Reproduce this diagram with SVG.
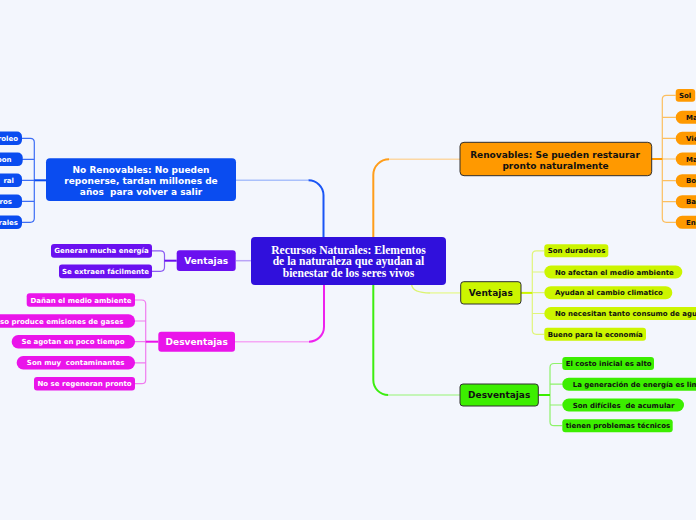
<svg xmlns="http://www.w3.org/2000/svg" width="696" height="520" viewBox="0 0 696 520">
<style>
.t{font-family:"DejaVu Sans",Verdana,sans-serif;font-weight:bold}
.lf{font-size:7px}
.nd{font-size:9px}
.w{fill:#ffffff}
.k{fill:#111111}
.c{font-family:"Liberation Serif","Times New Roman",serif;font-weight:bold;font-size:11.6px;fill:#ffffff}
.br{fill:none;stroke-width:1.2}
.st{fill:none;stroke-width:2}
.mn{fill:none;stroke-width:2}
.ml{fill:none;stroke-width:1.5}
.bd{stroke:#2e2e2e;stroke-width:1}
</style>
<rect width="696" height="520" fill="#f3f6fd"/>
<g id="connectors">
<path class="ml" stroke="#a9c0fb" d="M236,180.3 H308.5"/>
<path class="mn" stroke="#1a55f5" d="M308.5,180.3 C316.8,180.3 323.5,187 323.5,195.3 V237"/>
<path class="ml" stroke="#b9a3f7" d="M236,260.7 H251"/>
<path class="mn" stroke="#ee22ee" d="M324,285 V326.7 C324,335 317.3,341.7 309,341.7"/>
<path class="ml" stroke="#f5a8f5" d="M309,341.7 H235"/>
<path class="mn" stroke="#ff9d1a" d="M373.3,237 V175 C373.3,166.3 380.3,159.3 389,159.3"/>
<path class="ml" stroke="#fcd7a4" d="M389,159.3 H460"/>
<path class="ml" stroke="#dcf470" d="M411.7,285 C412.5,290 418,292.9 430,292.9"/>
<path class="ml" stroke="#e8f8a0" d="M430,292.9 H460"/>
<path class="mn" stroke="#3cee10" d="M373.3,285 V380 C373.3,388.3 380,395 388.3,395"/>
<path class="ml" stroke="#b5f5a0" d="M388.3,395 H460"/>
<path class="br" stroke="#3d6ef5" d="M22,138.3 H30.3 Q34.3,138.3 34.3,142.3 V218.3 Q34.3,222.3 30.3,222.3 H22 M34.3,159.3 H22 M34.3,180.3 H22 M34.3,201.3 H22"/>
<path class="st" stroke="#0a4cf0" d="M34.3,180.3 H46"/>
<path class="br" stroke="#8c5cf2" d="M152,250.8 H160.5 Q164.5,250.8 164.5,254.8 V267.3 Q164.5,271.3 160.5,271.3 H152"/>
<path class="st" stroke="#6a10f0" d="M164.5,260.7 H176.7"/>
<path class="br" stroke="#f07cf0" d="M135,300 H141.7 Q145.7,300 145.7,304 V379.7 Q145.7,383.7 141.7,383.7 H135 M145.7,321 H135 M145.7,341.7 H135 M145.7,362.8 H135"/>
<path class="st" stroke="#ea14ea" d="M145.7,341.7 H158.3"/>
<path class="br" stroke="#fcbf60" d="M675.7,95.3 H666.3 Q662.3,95.3 662.3,99.3 V218.3 Q662.3,222.3 666.3,222.3 H675.7 M662.3,117.3 H675.7 M662.3,138.3 H675.7 M662.3,159 H675.7 M662.3,180.7 H675.7 M662.3,201.7 H675.7"/>
<path class="st" stroke="#ff9900" d="M651.7,159 H662.3"/>
<path class="br" stroke="#e0f57a" d="M544.3,250.8 H536.3 Q532.3,250.8 532.3,254.8 V330.3 Q532.3,334.3 536.3,334.3 H544.3 M532.3,272 H544.3 M532.3,292.7 H544.3 M532.3,313.5 H544.3"/>
<path class="st" stroke="#ccf500" d="M521,292.9 H532.3"/>
<path class="br" stroke="#8df26a" d="M562.3,363.5 H554 Q550,363.5 550,367.5 V421.7 Q550,425.7 554,425.7 H562.3 M550,384.2 H562.3 M550,405 H562.3"/>
<path class="st" stroke="#3cee00" d="M538.3,395 H550"/>
</g>
<g id="center">
<rect x="251" y="237" width="195" height="48" rx="4" fill="#3010dc"/>
<text class="c" text-anchor="middle" x="348.5" y="253.5">Recursos Naturales: Elementos</text>
<text class="c" text-anchor="middle" x="348.5" y="265">de la naturaleza que ayudan al</text>
<text class="c" text-anchor="middle" x="348.5" y="276.5">bienestar de los seres vivos</text>
</g>
<g id="no-renovables">
<rect x="46" y="158.3" width="190" height="42.7" rx="4" fill="#0a4cf0"/>
<text class="t nd w" text-anchor="middle" x="141" y="172.5">No Renovables: No pueden</text>
<text class="t nd w" text-anchor="middle" x="141" y="183.5">reponerse, tardan millones de</text>
<text class="t nd w" text-anchor="middle" x="141" y="194.5" xml:space="preserve">años  para volver a salir</text>
</g>
<g id="nr-leaves">
<rect x="-30" y="131.5" width="52" height="13.6" rx="5" fill="#0a4cf0"/>
<text class="t lf w" text-anchor="end" x="18" y="140.8">roleo</text>
<rect x="-30" y="152.5" width="52.7" height="13.6" rx="5" fill="#0a4cf0"/>
<text class="t lf w" text-anchor="end" x="11.5" y="161.8">bon</text>
<rect x="-30" y="173.5" width="52" height="13.6" rx="5" fill="#0a4cf0"/>
<text class="t lf w" text-anchor="end" x="14" y="182.8">ral</text>
<rect x="-30" y="194.5" width="52" height="13.6" rx="5" fill="#0a4cf0"/>
<text class="t lf w" text-anchor="end" x="12" y="203.8">ros</text>
<rect x="-30" y="215.5" width="52" height="13.6" rx="5" fill="#0a4cf0"/>
<text class="t lf w" text-anchor="end" x="18" y="224.8">rales</text>
</g>
<g id="ventajas-izq">
<rect x="176.7" y="250.3" width="59" height="20.7" rx="3" fill="#6a10f0"/>
<text class="t nd w" text-anchor="middle" x="206.2" y="264">Ventajas</text>
</g>
<g id="vi-leaves">
<rect x="51" y="244" width="101" height="13.7" rx="3" fill="#6a10f0"/>
<text class="t lf w" text-anchor="middle" x="101.5" y="253.3">Generan mucha energía</text>
<rect x="59" y="264.4" width="93" height="13.8" rx="3" fill="#6a10f0"/>
<text class="t lf w" text-anchor="middle" x="105.5" y="273.8">Se extraen fácilmente</text>
</g>
<g id="desventajas-izq">
<rect x="158.3" y="331.7" width="76.7" height="20" rx="3" fill="#ea14ea"/>
<text class="t nd w" text-anchor="middle" x="196.7" y="345">Desventajas</text>
</g>
<g id="di-leaves">
<rect x="26.7" y="293.3" width="108.3" height="13.4" rx="3" fill="#ea14ea"/>
<text class="t lf w" text-anchor="middle" x="81" y="302.5">Dañan el medio ambiente</text>
<rect x="-20" y="314.3" width="155" height="13.4" rx="6.5" fill="#ea14ea"/>
<text class="t lf w" text-anchor="end" x="123.3" y="323.5">uso produce emisiones de gases</text>
<rect x="11.7" y="335" width="123.3" height="13.4" rx="6.5" fill="#ea14ea"/>
<text class="t lf w" text-anchor="middle" x="73" y="344.2">Se agotan en poco tiempo</text>
<rect x="16.7" y="356.1" width="118.3" height="13.4" rx="6.5" fill="#ea14ea"/>
<text class="t lf w" text-anchor="middle" x="75.7" y="365.3" xml:space="preserve">Son muy  contaminantes</text>
<rect x="34" y="377" width="101" height="13.4" rx="3" fill="#ea14ea"/>
<text class="t lf w" text-anchor="middle" x="84.6" y="386.2">No se regeneran pronto</text>
</g>
<g id="renovables">
<rect x="460" y="142.3" width="191.7" height="33.4" rx="4" fill="#ff9900" class="bd"/>
<text class="t nd k" text-anchor="middle" x="555" y="157.7">Renovables: Se pueden restaurar</text>
<text class="t nd k" text-anchor="middle" x="555.5" y="168.5">pronto naturalmente</text>
</g>
<g id="ren-leaves">
<rect x="675.7" y="89" width="19.5" height="12.7" rx="3" fill="#ff9900"/>
<text class="t lf k" x="679" y="97.8">Sol</text>
<rect x="675.7" y="110.8" width="40" height="13" rx="6.5" fill="#ff9900"/>
<text class="t lf k" x="686" y="119.8">Ma</text>
<rect x="675.7" y="131.8" width="40" height="13" rx="6.5" fill="#ff9900"/>
<text class="t lf k" x="686" y="140.8">Vie</text>
<rect x="675.7" y="152.5" width="40" height="13" rx="6.5" fill="#ff9900"/>
<text class="t lf k" x="686" y="161.5">Ma</text>
<rect x="675.7" y="174.2" width="40" height="13" rx="6.5" fill="#ff9900"/>
<text class="t lf k" x="686" y="183.2">Bo</text>
<rect x="675.7" y="195.2" width="40" height="13" rx="6.5" fill="#ff9900"/>
<text class="t lf k" x="686" y="204.2">Ba</text>
<rect x="675.7" y="215.8" width="40" height="13" rx="6.5" fill="#ff9900"/>
<text class="t lf k" x="686" y="224.8">En</text>
</g>
<g id="ventajas-der">
<rect x="460.7" y="281.7" width="60.3" height="22.3" rx="3" fill="#ccf500" class="bd"/>
<text class="t nd k" text-anchor="middle" x="490.8" y="296.2">Ventajas</text>
</g>
<g id="vd-leaves">
<rect x="544.3" y="244.3" width="64" height="13" rx="3" fill="#ccf500"/>
<text class="t lf k" x="547.7" y="253.3">Son duraderos</text>
<rect x="544.3" y="265.5" width="138" height="13" rx="6.5" fill="#ccf500"/>
<text class="t lf k" x="555" y="274.5">No afectan el medio ambiente</text>
<rect x="544.3" y="286.2" width="128" height="13" rx="6.5" fill="#ccf500"/>
<text class="t lf k" x="555" y="295.2">Ayudan al cambio climatico</text>
<rect x="544.3" y="307" width="170" height="13" rx="6.5" fill="#ccf500"/>
<text class="t lf k" x="555" y="316">No necesitan tanto consumo de agua</text>
<rect x="544.3" y="327.8" width="101.7" height="13" rx="3" fill="#ccf500"/>
<text class="t lf k" x="547.7" y="336.8">Bueno para la economía</text>
</g>
<g id="desventajas-der">
<rect x="460" y="384" width="78.3" height="22" rx="3" fill="#3cee00" class="bd"/>
<text class="t nd k" text-anchor="middle" x="499.2" y="398.3">Desventajas</text>
</g>
<g id="dd-leaves">
<rect x="562.3" y="357" width="91.7" height="13" rx="3" fill="#3cee00"/>
<text class="t lf k" x="565.7" y="366">El costo inicial es alto</text>
<rect x="562.3" y="377.7" width="150" height="13" rx="6.5" fill="#3cee00"/>
<text class="t lf k" x="572.7" y="386.7">La generación de energía es lim</text>
<rect x="562.3" y="398.5" width="121.7" height="13" rx="6.5" fill="#3cee00"/>
<text class="t lf k" x="572.7" y="407.5" xml:space="preserve">Son difíciles  de acumular</text>
<rect x="562.3" y="419.2" width="110.4" height="13" rx="3" fill="#3cee00"/>
<text class="t lf k" x="565.7" y="428.2">tienen problemas técnicos</text>
</g>
</svg>
